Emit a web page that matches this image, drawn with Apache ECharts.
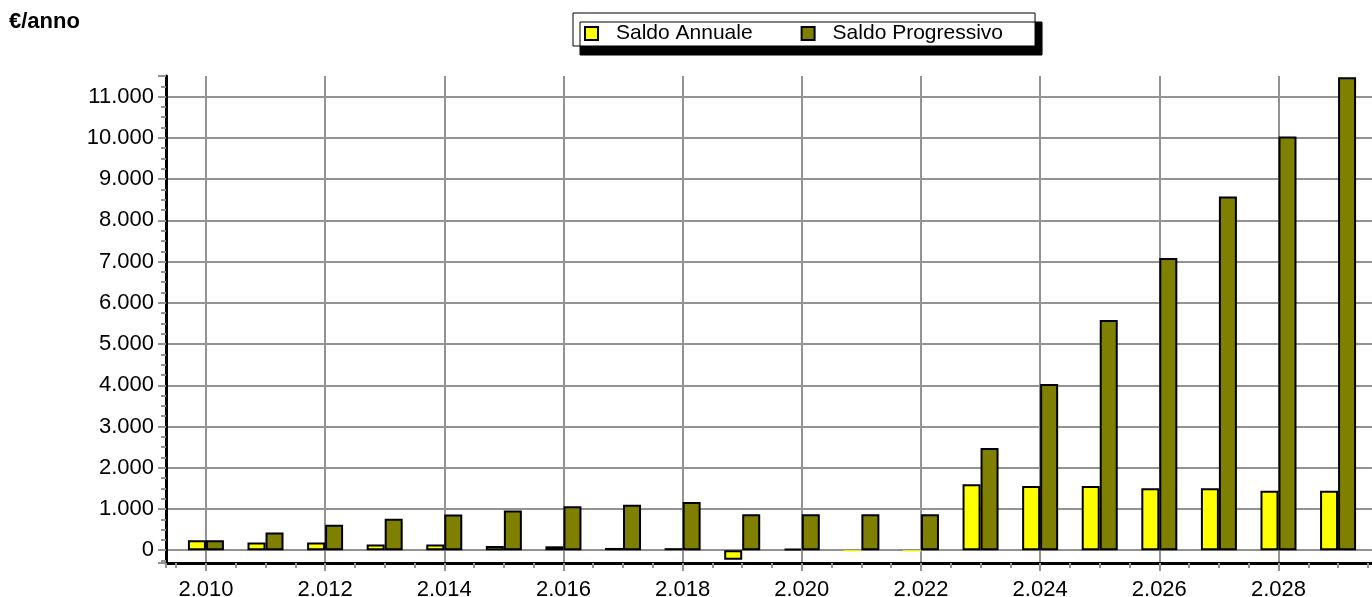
<!DOCTYPE html>
<html>
<head>
<meta charset="utf-8">
<title>Saldo Annuale / Progressivo</title>
<script src="https://cdn.jsdelivr.net/npm/echarts@6/dist/echarts.min.js"></script>
<style>
  html, body { margin: 0; padding: 0; background: #fff; }
  #chart { width: 1372px; height: 597px; }
</style>
</head>
<body>
<div id="chart"></div>
<script>
const anni = [2010, 2011, 2012, 2013, 2014, 2015, 2016, 2017, 2018, 2019,
  2020, 2021, 2022, 2023, 2024, 2025, 2026, 2027, 2028, 2029]
const saldoAnnuale = [240, 185, 185, 140, 140, 100, 95, 55, 50, -230,
  35, -30, -30, 1600, 1555, 1555, 1500, 1500, 1440, 1440]
const saldoProgressivo = [240, 430, 620, 765, 865, 965, 1065, 1105, 1170, 870,
  870, 870, 870, 2480, 4030, 5585, 7085, 8575, 10030, 11470]
const nomiSerie = ['Saldo Annuale', 'Saldo Progressivo']
const unita = '€/anno'

const font = "'Liberation Sans', Arial, sans-serif"
const grigio = '#939393'
const xMin = 2009.33
const xMax = 2029.67
const yMin = -310
const yMax = 11500

// separatore delle migliaia all'italiana: 2.010, 11.000
function formatta(v) {
  const segno = v < 0 ? '-' : ''
  return segno + String(Math.abs(v)).replace(/\B(?=(\d{3})+(?!\d))/g, '.')
}

function barre(valori) {
  return anni.map((a, i) => {
    const v = valori[i]
    // quasi zero sotto l'asse: solo una riga gialla, senza bordo
    if (v <= 0 && v > -50) {
      return { value: [a, v], itemStyle: { borderWidth: 0 } }
    }
    return [a, v]
  })
}

const lineaGriglia = { color: grigio, width: 2 }

const chart = echarts.init(document.getElementById('chart'))
chart.setOption({
  animation: false,
  textStyle: { fontFamily: font },
  title: {
    text: unita,
    left: 4,
    top: 6,
    textStyle: { fontSize: 22, fontWeight: 'bold', color: '#000', fontFamily: font }
  },
  legend: {
    data: nomiSerie,
    left: 573,
    top: 13,
    orient: 'horizontal',
    icon: 'rect',
    itemWidth: 13,
    itemHeight: 13,
    itemGap: 48,
    padding: [10, 32, 2, 11],
    backgroundColor: '#fff',
    borderColor: '#000',
    borderWidth: 1,
    borderRadius: 0,
    shadowColor: '#000',
    shadowBlur: 0,
    shadowOffsetX: 7,
    shadowOffsetY: 9,
    textStyle: { fontSize: 21, color: '#000', fontFamily: font, padding: [0, 0, 0, 13] }
  },
  grid: {
    left: 166,
    right: -6,
    top: 76,
    bottom: 34,
    outerBoundsMode: 'none'
  },
  xAxis: [{
    type: 'value',
    position: 'bottom',
    min: xMin,
    max: xMax,
    splitNumber: 10,
    minInterval: 2,
    maxInterval: 2,
    axisLine: { show: true, onZero: false, lineStyle: { color: '#000', width: 3 } },
    axisTick: { show: true, length: 8, lineStyle: lineaGriglia },
    axisLabel: {
      margin: 16,
      fontSize: 22,
      color: '#000',
      fontFamily: font,
      showMinLabel: false,
      showMaxLabel: false,
      formatter: v => (Number.isInteger(v) ? formatta(v) : '')
    },
    splitLine: { show: true, showMinLine: false, showMaxLine: false, lineStyle: lineaGriglia }
  }, {
    // tacche minori ogni mezzo anno
    type: 'value',
    position: 'bottom',
    min: xMin,
    max: xMax,
    splitNumber: 40,
    minInterval: 0.5,
    maxInterval: 0.5,
    axisLine: { show: false, onZero: false },
    axisTick: { show: true, length: 5, lineStyle: lineaGriglia },
    axisLabel: { show: false },
    splitLine: { show: false }
  }],
  yAxis: [{
    type: 'value',
    position: 'left',
    min: yMin,
    max: yMax,
    splitNumber: 12,
    minInterval: 1000,
    maxInterval: 1000,
    axisLine: { show: true, onZero: false, lineStyle: { color: '#000', width: 3 } },
    axisTick: { show: true, length: 8, lineStyle: lineaGriglia },
    axisLabel: {
      margin: 12,
      fontSize: 22,
      color: '#000',
      fontFamily: font,
      formatter: v => (v % 1000 === 0 ? formatta(v) : '')
    },
    splitLine: { show: true, showMinLine: false, showMaxLine: false, lineStyle: lineaGriglia }
  }, {
    // tacche minori ogni 250
    type: 'value',
    position: 'left',
    min: yMin,
    max: yMax,
    splitNumber: 48,
    minInterval: 250,
    maxInterval: 250,
    axisLine: { show: false, onZero: false },
    axisTick: { show: true, length: 5, lineStyle: lineaGriglia },
    axisLabel: { show: false },
    splitLine: { show: false }
  }],
  series: [{
    name: nomiSerie[0],
    type: 'bar',
    xAxisIndex: 0,
    yAxisIndex: 0,
    data: barre(saldoAnnuale),
    barWidth: 18,
    barGap: '0%',
    itemStyle: { color: '#ffff00', borderColor: '#000', borderWidth: 2 }
  }, {
    name: nomiSerie[1],
    type: 'bar',
    xAxisIndex: 0,
    yAxisIndex: 0,
    data: barre(saldoProgressivo),
    barWidth: 18,
    barGap: '0%',
    itemStyle: { color: '#808000', borderColor: '#000', borderWidth: 2 }
  }]
})
</script>
</body>
</html>
